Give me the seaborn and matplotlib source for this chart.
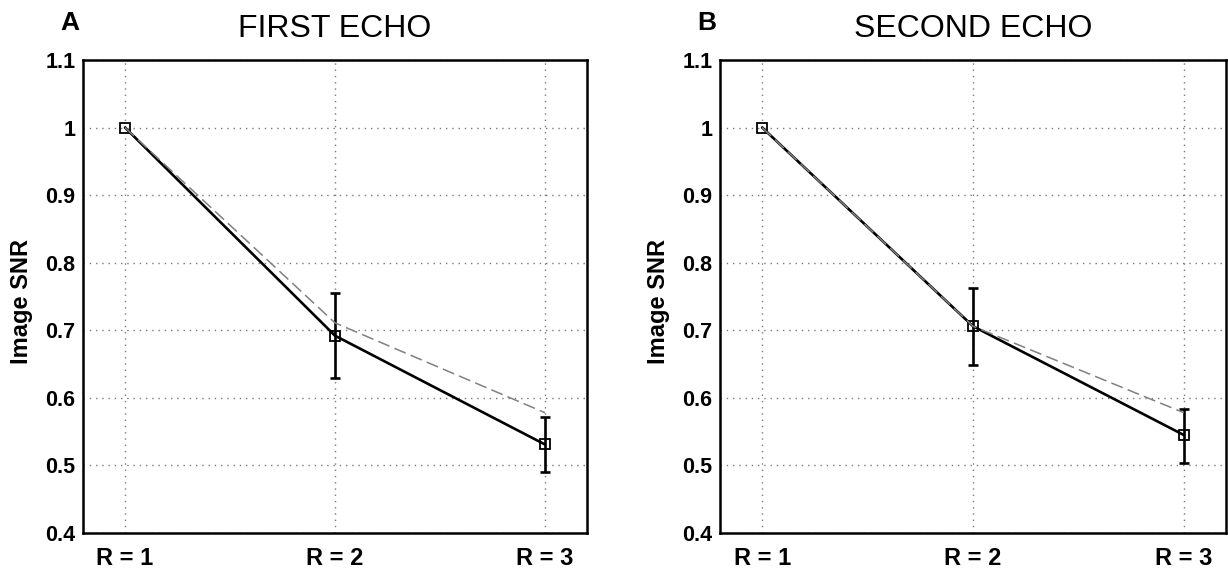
import numpy as np
import pandas as pd
import matplotlib
matplotlib.use("Agg")
import matplotlib.pyplot as plt
import seaborn as sns

# Acceleration factors and their tick labels
r_levels = [1, 2, 3]
r_labels = ["R = 1", "R = 2", "R = 3"]
y_ticks = [0.4, 0.5, 0.6, 0.7, 0.8, 0.9, 1.0, 1.1]
y_tick_labels = ["0.4", "0.5", "0.6", "0.7", "0.8", "0.9", "1", "1.1"]

# First echo: measured SNR (mean with min/max bars) and theoretical curve
first_measured = [1.0, 0.692, 0.531]
first_low = [np.nan, 0.630, 0.490]
first_high = [np.nan, 0.755, 0.572]
first_expected = [1.0, 0.711, 0.578]

# Second echo
second_measured = [1.0, 0.706, 0.545]
second_low = [np.nan, 0.649, 0.504]
second_high = [np.nan, 0.762, 0.583]
second_expected = [1.0, 0.706, 0.578]

panels = [
    ("A", "FIRST ECHO", first_measured, first_low, first_high, first_expected),
    ("B", "SECOND ECHO", second_measured, second_low, second_high, second_expected),
]

sns.set_theme(style="white")
plt.rcParams["font.family"] = ["Liberation Sans", "DejaVu Sans"]
plt.rcParams.update({"text.color": "black", "axes.labelcolor": "black",
                     "xtick.color": "black", "ytick.color": "black"})

W, H = 1228, 573
fig = plt.figure(figsize=(W / 100, H / 100), dpi=100)
fig.patch.set_facecolor("white")

# Axes boxes in pixel units: left, top, right, bottom
boxes = [(83, 60, 587, 533), (720, 60, 1226, 533)]

for (letter, title, measured, low, high, expected), (l, t, r, b) in zip(panels, boxes):
    ax = fig.add_axes([l / W, 1 - b / H, (r - l) / W, (b - t) / H])
    df = pd.DataFrame({"R": r_levels, "measured": measured, "expected": expected})

    sns.lineplot(data=df, x="R", y="measured", ax=ax, color="black", lw=1.9,
                 marker="s", markersize=6.5, markerfacecolor="none",
                 markeredgecolor="black", markeredgewidth=1.3, zorder=3)
    sns.lineplot(data=df, x="R", y="expected", ax=ax, color="#808080", lw=1.1,
                 dashes=(8, 3.5), zorder=4)
    lo = np.array(measured) - np.array(low)
    hi = np.array(high) - np.array(measured)
    ax.errorbar(r_levels, measured, yerr=[lo, hi], fmt="none", ecolor="black",
                elinewidth=1.9, capsize=3.4, capthick=1.9, zorder=3)

    ax.set_xlim(0.8, 3.2)
    ax.set_ylim(0.4, 1.1)
    ax.set_xticks(r_levels)
    ax.set_xticklabels(r_labels, fontsize=17, fontweight="bold", color="black")
    ax.set_yticks(y_ticks)
    ax.set_yticklabels(y_tick_labels, fontsize=15.5, fontweight="bold", color="black")
    ax.tick_params(axis="both", direction="in", length=4, width=1, color="black")
    ax.tick_params(axis="x", pad=10)
    ax.tick_params(axis="y", pad=5.5)

    ax.grid(True, which="major", linestyle=(0, (1, 3.5)), color="#7a7a7a", lw=1.0)
    ax.set_axisbelow(True)
    for s in ax.spines.values():
        s.set_visible(True)
        s.set_color("black")
        s.set_linewidth(1.8)

    ax.set_xlabel("")
    ax.set_ylabel("Image SNR", fontsize=17, fontweight="bold", va="center", color="black")
    ax.yaxis.set_label_coords(-0.122, 0.49)
    ax.set_title(title, fontsize=23, pad=16.5, color="black")

    fig.text((l - 23) / W, 1 - 30 / H, letter, fontsize=19, fontweight="bold",
             ha="left", va="baseline", color="black")

fig.savefig("out.png", dpi=100, facecolor="white")
